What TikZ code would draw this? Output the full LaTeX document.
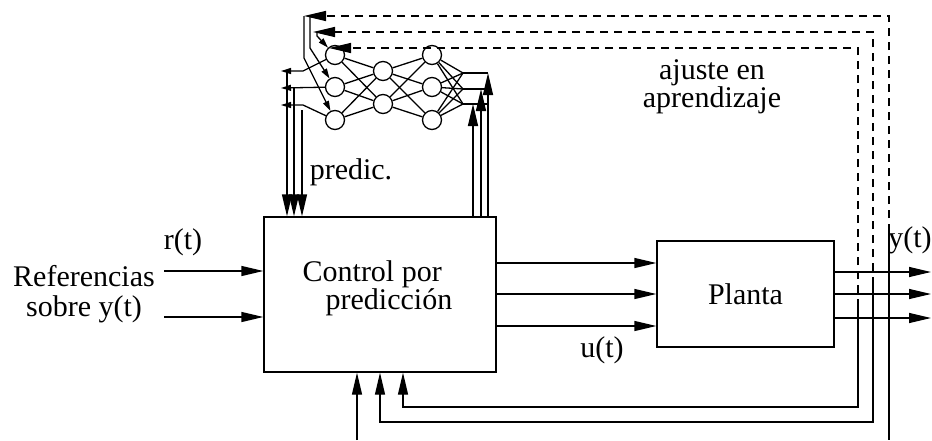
\documentclass[tikz,border=0pt]{standalone}
\usepackage{fontspec}
\setmainfont{Liberation Serif}
\usetikzlibrary{arrows.meta}

\tikzset{
  blk/.style={draw,inner sep=0pt},
  neu/.style={draw,circle,minimum size=9.5pt,inner sep=0pt},
  arr/.style={-{Triangle[length=11pt,width=5pt]}},
  sarr/.style={-{Triangle[length=5pt,width=3pt]}},
  fb/.style={dash pattern=on 4pt off 3pt},
}

\begin{document}
\begin{tikzpicture}[x=0.5pt,y=-0.5pt,line width=0.65pt,font=\fontsize{15}{15}\selectfont]
\useasboundingbox (0,0) rectangle (932,440);
% bloques
\node[blk,minimum width=116pt,minimum height=77.5pt] (ctrl) at (380,294.5) {};
\node[blk,minimum width=88.5pt,minimum height=53pt] (plant) at (745.5,294) {};
\node[anchor=west,align=left,inner sep=0pt,font=\fontsize{15}{14}\selectfont] (ctrltxt) at (302,288) {Control por\\\hspace*{11.5pt}predicción};
\node (planttxt) at (745.5,294) {Planta};
% red neuronal
\foreach \n/\y in {1/55,2/87,3/120}{
  \node[neu] (a\n) at (335,\y) {};
  \node[neu] (c\n) at (432,\y) {};
}
\foreach \n/\y in {1/71,2/104} \node[neu] (b\n) at (383,\y) {};
\foreach \n/\y in {1/73,2/89,3/104} \coordinate (o\n) at (463,\y);
\foreach \i in {1,2,3} \foreach \j in {1,2} \draw (a\i) -- (b\j) (b\j) -- (c\i);
\foreach \i in {1,2,3} \foreach \j in {1,2,3} \draw (c\i) -- (o\j);
\coordinate (l1) at (281,71);
\coordinate (l2) at (281,88);
\coordinate (l3) at (281,105);
\draw[sarr] (a1) -- (303,71) -- (l1);
\draw[sarr] (a2) -- (l2);
\draw[sarr] (a3) -- (303,105) -- (l3);
\coordinate (d1) at (287,71);
\coordinate (d2) at (294,88);
\coordinate (d3) at (302,110);
\foreach \k in {1,2,3} \draw[arr] (d\k) -- (d\k |- ctrl.north);
\coordinate (u1) at (473,104);
\coordinate (u2) at (481,89);
\coordinate (u3) at (488,73);
\foreach \k in {1,2,3}{
  \draw (o\k) -- (o\k -| u3);
  \draw[arr] (u\k |- ctrl.north) -- (u\k);
}
% ajuste en aprendizaje
\coordinate (s1) at (889,232);
\coordinate (s2) at (873,285);
\coordinate (s3) at (858,307);
\coordinate (t1) at (304,16);
\coordinate (t2) at (313,32);
\coordinate (t3) at (329,48);
\foreach \k in {1,2,3} \draw[fb,arr] (s\k) -- (s\k |- t\k) -- (t\k);
\draw[sarr] (t1) -- (304,58) -- (a3);
\draw[sarr] (310,16) -- (310,48) -- (a2);
\draw[sarr] (317,32) -- (317,36) -- (a1);
% entradas y salidas
\coordinate (r1) at (164,271);
\coordinate (r2) at (164,317);
\draw[arr] (r1) -- (r1 -| ctrl.west);
\draw[arr] (r2) -- (r2 -| ctrl.west);
\foreach \y [count=\k] in {263,294,326}{
  \coordinate (m\k) at (ctrl.east |- 0,\y);
  \draw[arr] (m\k) -- (m\k -| plant.west);
}
\coordinate (yend) at (931,294);
\foreach \y [count=\k] in {272,294,318}{
  \coordinate (p\k) at (plant.east |- 0,\y);
  \draw[arr] (p\k) -- (p\k -| yend);
}
% realimentacion
\coordinate (e1) at (889,440);
\coordinate (e4) at (357,440);
\coordinate (f2) at (380,422);
\coordinate (f3) at (403,407);
\draw (s1) -- (e1);
\draw[arr] (e4) -- (e4 |- ctrl.south);
\draw[arr] (s2) |- (f2) -- (f2 |- ctrl.south);
\draw[arr] (s3) |- (f3) -- (f3 |- ctrl.south);
% textos
\node (rt) at (183,242) {r(t)};
\node[align=center] (ref) at (84,294) {Referencias\\sobre y(t)};
\node (ut) at (602,350) {u(t)};
\node (yt) at (910,240) {y(t)};
\node (pred) at (351,172) {predic.};
\node[align=center,font=\fontsize{15}{14}\selectfont] (ajuste) at (712,87) {ajuste en\\aprendizaje};
\end{tikzpicture}
\end{document}
